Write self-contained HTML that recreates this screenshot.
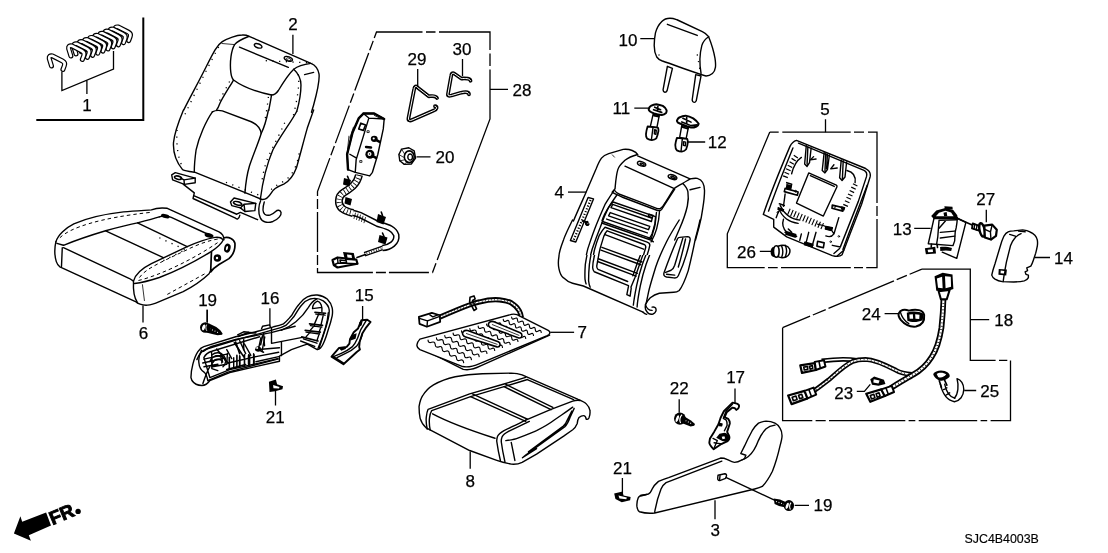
<!DOCTYPE html>
<html><head><meta charset="utf-8"><title>Seat parts diagram</title>
<style>
html,body{margin:0;padding:0;background:#fff;}
body{width:1108px;height:553px;overflow:hidden;font-family:"Liberation Sans",sans-serif;}
svg{display:block;filter:grayscale(1);}
.p{fill:none;stroke:#000;stroke-width:1.4;stroke-linecap:round;stroke-linejoin:round;}
.w{fill:#fff;stroke:#000;stroke-width:1.4;stroke-linecap:round;stroke-linejoin:round;}
.t{fill:none;stroke:#000;stroke-width:0.8;stroke-linecap:round;stroke-linejoin:round;}
.h{fill:none;stroke:#000;stroke-width:1.6;stroke-linecap:round;stroke-linejoin:round;}
.l{fill:none;stroke:#000;stroke-width:1.3;}
.d{fill:none;stroke:#000;stroke-width:1.3;}
.p,.w,.t,.h,.sd{vector-effect:non-scaling-stroke;}
.sd{fill:none;stroke:#000;stroke-width:1.3;stroke-dasharray:1.2 5.5;}
.sd2{vector-effect:non-scaling-stroke;fill:none;stroke:#000;stroke-width:1;stroke-dasharray:3.5 3;}
.sd3{vector-effect:non-scaling-stroke;fill:none;stroke:#000;stroke-width:2.2;stroke-dasharray:1.2 1.8;}
.tk{vector-effect:non-scaling-stroke;fill:none;stroke:#000;stroke-width:5;stroke-dasharray:1.2 2.6;}
.tk2{vector-effect:non-scaling-stroke;fill:none;stroke:#000;stroke-width:6.5;stroke-dasharray:1.1 2.2;}
.k{fill:#000;stroke:none;}
text{font-family:"Liberation Sans",sans-serif;font-size:17px;fill:#000;stroke:#000;stroke-width:0.25;text-anchor:middle;}
</style></head><body>
<svg width="1108" height="553" viewBox="0 0 1108 553">
<!-- 00_labels.svg -->
<g id="labels">
<text x="87" y="110.5">1</text>
<text x="293" y="30">2</text>
<text x="715.2" y="535.8">3</text>
<text x="559.2" y="198">4</text>
<text x="825" y="115">5</text>
<text x="143.6" y="339">6</text>
<text x="582.3" y="338.3">7</text>
<text x="470.2" y="486.8">8</text>
<text x="628" y="45.5">10</text>
<text x="621.3" y="114">11</text>
<text x="717.3" y="147.8">12</text>
<text x="902.2" y="234.6">13</text>
<text x="1063.5" y="263.5">14</text>
<text x="364.3" y="300.9">15</text>
<text x="270" y="303.9">16</text>
<text x="735.6" y="383.4">17</text>
<text x="1003.8" y="326.3">18</text>
<text x="207.6" y="305.5">19</text>
<text x="823" y="511.2">19</text>
<text x="445" y="163">20</text>
<text x="275.2" y="423.2">21</text>
<text x="622.4" y="473.6">21</text>
<text x="679.2" y="393.6">22</text>
<text x="843.8" y="398.5">23</text>
<text x="871.3" y="320.1">24</text>
<text x="989.7" y="397">25</text>
<text x="746.4" y="258.2">26</text>
<text x="985.7" y="205.4">27</text>
<text x="522" y="96">28</text>
<text x="417" y="65">29</text>
<text x="462" y="54.5">30</text>
<text x="1001.7" y="543.3" style="font-size:12.4px;stroke-width:0.15">SJC4B4003B</text>
</g>

<!-- 01_box1.svg -->
<g id="box1">
<path d="M143.3,17.5V120M36.3,120H144.3" style="fill:none;stroke:#000;stroke-width:2"/>
<path class="l" d="M61.9,71.5V90.6L113.5,69V51M86.9,80.4V94"/>
<g id="clipc">
<path d="M51.5,66 L49.2,58.5 Q48.7,55.3 52.5,55.9 L62.5,61 Q65.5,62.5 64.4,65.5 L62.9,69.5" style="fill:none;stroke:#000;stroke-width:5;stroke-linecap:round;stroke-linejoin:round"/>
<path d="M51.5,66 L49.2,58.5 Q48.7,55.3 52.5,55.9 L62.5,61 Q65.5,62.5 64.4,65.5 L62.9,69.5" style="fill:none;stroke:#fff;stroke-width:2.6;stroke-linecap:round;stroke-linejoin:round"/>
</g>
<use href="#clipc" x="65.8" y="-28.9"/>
<use href="#clipc" x="60.6" y="-26.8"/>
<use href="#clipc" x="55.5" y="-24.7"/>
<use href="#clipc" x="50.3" y="-22.6"/>
<use href="#clipc" x="45.1" y="-20.5"/>
<use href="#clipc" x="40.0" y="-18.4"/>
<use href="#clipc" x="34.9" y="-16.3"/>
<use href="#clipc" x="29.7" y="-14.2"/>
<use href="#clipc" x="24.5" y="-12.1"/>
<use href="#clipc" x="19.4" y="-10.0"/>
</g>

<!-- 02_seatback.svg -->
<g id="seatback">
<g transform="translate(150,20) scale(0.1808)">
<path class="p" d="M187,497 C215,440 270,340 310,260 C330,220 345,190 360,165 C375,140 385,130 400,120 C430,100 480,84 510,83 C525,82 540,86 548,90 L890,240 C915,250 930,270 935,300 C938,330 930,380 905,470 L893,510"/>
<path class="t" d="M398,130 L468,136"/>
<path class="p" d="M548,90 C510,105 480,120 468,136 C450,165 440,230 447,290 C450,315 455,325 462,332 C520,375 600,400 672,415 C690,415 700,405 710,390 C740,340 770,295 795,272 C820,252 850,245 890,240"/>
<path class="p" d="M795,272 C820,295 835,320 835,360 C835,420 822,470 812,505"/>
<path class="p" d="M495,150 L765,262"/>
<ellipse class="p" cx="598" cy="143" rx="22" ry="11" transform="rotate(20 598 143)"/>
<ellipse class="p" cx="765" cy="215" rx="24" ry="12" transform="rotate(20 765 215)"/>
<ellipse class="t" cx="767" cy="217" rx="14" ry="6" transform="rotate(20 767 217)"/>
<path class="p" d="M855,302 L905,290"/>
<path class="p" d="M462,332 C440,370 400,430 385,465 C378,485 374,492 368,498"/>
<path class="p" d="M672,415 C667,450 660,480 657,500"/>
<path class="sd" d="M380,150 C350,200 250,400 185,540"/>
<path class="sd" d="M440,340 C420,380 390,430 375,470"/>
<path class="sd" d="M655,425 C650,470 642,520 636,553"/>
<path class="sd" d="M820,300 C830,360 810,460 790,540"/>
<path class="sd" d="M640,225 L900,238"/>
</g>
<g transform="translate(150,110) scale(0.1808)">
<path class="p" d="M185,0 C160,60 135,130 130,180 C127,230 140,280 180,330 C200,340 230,342 250,345 L620,495 C640,497 655,485 670,460 C680,440 700,425 740,410 C770,395 795,360 810,320 C830,250 850,170 870,100 L905,0"/>
<path class="p" d="M345,10 C310,60 270,150 255,220 C248,270 245,310 245,340"/>
<path class="p" d="M345,10 C360,2 380,0 400,5 L560,65 C590,78 610,95 615,130 C600,180 570,250 550,310 C535,360 528,420 525,460"/>
<path class="p" d="M655,0 C645,50 630,100 615,130"/>
<path class="p" d="M811,8 C785,60 722,140 680,220 C650,290 625,380 610,495"/>
<path class="sd" d="M150,110 C145,170 150,250 175,305"/>
<path class="sd" d="M745,70 C720,130 680,200 650,270 C635,310 625,350 618,400"/>
<path class="sd" d="M825,240 C815,300 790,370 730,400 C700,415 690,425 670,440"/>
<path class="sd" d="M420,400 L600,470"/>
</g>
<g transform="translate(150,160) scale(0.1808)">
<path class="w" d="M120,82 L140,70 L250,100 L250,126 L190,135 L125,110 Z"/>
<path class="p" d="M250,100 L188,110 L190,135 M188,110 L170,100"/>
<ellipse class="h" cx="155" cy="98" rx="20" ry="9" transform="rotate(15 155 98)"/>
<path class="p" d="M185,135 L245,182 L238,213 L470,320 C480,330 492,330 497,305 M245,198 L480,300 L500,290 L595,330"/>
<path class="p" d="M612,225 C600,250 597,290 610,320 C620,345 650,350 680,340 C710,328 728,305 725,290 C720,275 705,275 695,285 C675,305 650,312 635,300 C622,288 625,255 632,232"/>
<path class="w" d="M445,232 L465,210 L585,240 L580,280 L525,285 L500,265 L452,252 Z"/>
<path class="p" d="M500,265 L520,245 L585,240 M520,245 L525,285"/>
<ellipse class="h" cx="485" cy="240" rx="24" ry="9" transform="rotate(15 485 240)"/>
</g>
</g>
<path class="l" d="M292.9,34.7V54"/>

<!-- 03_cushion.svg -->
<g id="cushion" transform="translate(40,190) scale(0.1989)">
<path class="p" d="M80,260 C90,225 130,190 170,170 C250,135 350,118 420,110 C480,104 540,102 560,100 C580,92 610,88 640,92 L900,210 C915,218 925,232 925,250"/>
<path class="p" d="M80,260 C73,290 73,330 82,360 C88,378 95,383 100,386 L480,561 C495,575 520,580 540,579 C560,578 580,570 600,561 L720,511 C780,480 830,440 850,421 L860,401"/>
<path class="p" d="M470,461 C468,500 472,540 490,566"/>
<path class="t" d="M515,476 L525,556"/>
<path class="p" d="M112,290 L108,385 M85,268 L118,278"/>
<path class="p" d="M118,278 C200,245 280,220 330,205 C400,185 450,172 490,165 C530,155 570,145 600,135"/>
<path class="p" d="M118,290 L450,445 L470,458"/>
<path class="p" d="M330,205 L620,340 M490,165 L740,285"/>
<path class="p" d="M600,135 C620,128 640,130 660,138 L850,225"/>
<path class="p" d="M470,458 C480,420 510,395 560,370 L740,285 C790,262 840,245 880,238 C900,236 912,240 918,248"/>
<path class="p" d="M475,470 C520,465 570,450 600,440 C680,410 770,365 860,310 C890,290 915,265 922,250"/>
<ellipse class="k" cx="630" cy="131" rx="22" ry="10" transform="rotate(15 630 131)"/>
<ellipse class="k" cx="850" cy="228" rx="23" ry="11" transform="rotate(15 850 228)"/>
<path class="p" style="stroke-width:1.7" d="M925,240 C950,235 975,245 980,268 C982,295 972,325 950,345 L900,375 C880,388 868,398 858,412 M862,310 L858,412"/>
<ellipse class="k" cx="942" cy="292" rx="16" ry="23" transform="rotate(15 942 292)"/><ellipse cx="940" cy="292" rx="5" ry="11" transform="rotate(15 940 292)" fill="#fff"/>
<circle class="k" cx="892" cy="342" r="19"/><circle cx="890" cy="342" r="6" fill="#fff"/>
<path class="sd2" d="M100,240 C150,190 300,140 560,112"/>
<path class="sd2" d="M500,440 C530,400 570,380 740,300 C800,270 860,250 905,245"/>
<path class="sd2" d="M495,455 C600,430 770,350 900,260"/>
<path class="sd2" d="M640,525 L840,415"/>
<path class="sd" d="M600,240 L740,305 M620,355 L720,305"/>
</g>
<path class="l" d="M143,305.5V322.5M207.1,309.5V322"/>

<!-- 04_box28.svg -->
<g id="box28">
<path class="d" d="M376.5,32H490V119L432.5,272.5H317.5V191.5Z" stroke-dasharray="46 3.5 9.5 3.5 69 3.5 12.5 3.5 200 3.5 10 3.5 40 3 10 3 60 3 10 3 40 3 10 3 40 3 10 3 40 3 10 3 40 3 10 3"/>
<path class="l" d="M490,89.3H508M462.5,59V76M417.7,69V86.5M416.5,156.8H430.5"/>
<!-- device -->
<g transform="translate(320,100) scale(0.1808)">
<path class="w" d="M240,75 L300,75 L355,105 L350,160 L320,300 L290,400 L275,420 L195,400 L155,385 L150,300 L180,180 L215,100 Z"/>
<path class="p" d="M240,75 L270,100 L355,105 M270,100 L240,200 L200,330 L195,400 M165,300 L200,320"/><path class="h" style="stroke-width:2.4" d="M240,75 L215,100 L180,180 L150,300 L155,385 M240,75 L300,75 L355,105"/>
<path class="h" d="M226,128 L252,138 L240,168 L214,160 Z"/>
<ellipse class="k" cx="300" cy="215" rx="19" ry="17"/><circle cx="297" cy="213" r="6" fill="#fff"/><circle class="k" cx="276" cy="300" r="25"/>
<circle cx="274" cy="299" r="11" fill="#fff"/><circle class="k" cx="274" cy="299" r="4"/>
<path class="h" style="stroke-width:2.6" d="M312,222 L330,232 M255,260 L282,263 M292,310 L310,320"/>
<rect class="t" x="262" y="170" width="10" height="10"/><rect class="t" x="222" y="335" width="10" height="10"/>
<path class="t" d="M300,85 L330,100 M160,200 L150,300 M185,150 L165,210"/>
</g>
<!-- cable -->
<g transform="translate(300,140) scale(0.25)">
<defs>
<path id="cab28a" vector-effect="non-scaling-stroke" d="M236,140 C228,178 200,195 175,210 C150,225 150,260 170,275 C180,283 195,288 212,292"/>
<path id="cab28b" vector-effect="non-scaling-stroke" d="M205,290 C220,293 230,296 240,300 L310,335 C340,345 375,350 385,380 C390,410 360,430 330,432"/>
<path id="cab28c" vector-effect="non-scaling-stroke" d="M335,430 L258,457"/>
</defs>
<g style="fill:none">
<use href="#cab28c" style="stroke:#000;stroke-width:4.6"/><use href="#cab28c" style="stroke:#fff;stroke-width:2"/><use href="#cab28c" style="stroke:#000;stroke-width:2;stroke-dasharray:0.7 1.8"/>
<use href="#cab28b" style="stroke:#000;stroke-width:6.6"/><use href="#cab28b" style="stroke:#fff;stroke-width:3.6"/>
<use href="#cab28a" style="stroke:#000;stroke-width:8"/><use href="#cab28a" style="stroke:#fff;stroke-width:5"/><use href="#cab28a" style="stroke:#000;stroke-width:5;stroke-dasharray:0.8 2.4"/>
</g>
<path class="t" d="M222,292 L216,314 M232,296 L226,318 M242,300 L236,322 M252,305 L246,326 M262,310 L256,331"/>
<path class="k" d="M176,152 L204,160 L198,186 L172,178 Z M182,228 L208,236 L202,262 L178,254 Z M312,296 L344,308 L334,338 L306,328 Z M318,380 L350,390 L342,418 L312,408 Z"/>
<path class="h" d="M190,145 L196,160 M325,288 L330,302 M330,372 L336,386"/>
<path class="w" d="M130,480 L150,470 L225,478 L230,495 L150,510 L135,500 Z" style="stroke-width:2.2"/>
<path class="p" d="M150,470 L152,492 L230,495 M152,492 L135,500"/><path class="h" d="M160,480 L185,483 L186,492 L162,490 Z"/>
<path class="k" d="M172,448 L215,452 L222,482 L180,480 Z"/><path d="M188,458 L206,460 L208,472 L190,470 Z" fill="#fff"/>
<path class="h" d="M228,470 L262,458"/>
</g>
<!-- nut 20 -->
<g transform="translate(407,156.3) scale(0.9)">
<path class="w" d="M-9,-2 L-6,-8 L2,-9.5 L8,-6 L9.5,2 L5,8.5 L-3,9 L-8,5 Z"/>
<ellipse class="h" cx="2.5" cy="0.5" rx="5.5" ry="6.5"/>
<ellipse class="p" cx="3.5" cy="0.8" rx="2.6" ry="3.4"/>
<path class="t" d="M-6,-8 L-3,-3 M-9,-2 L-4,1 M-8,5 L-3,4 M-3,9 L0,6"/>
</g>
</g>

<!-- 05_hooks.svg -->
<g id="hooks" transform="translate(300,20) scale(0.25)">
<g style="fill:none;stroke-linecap:round;stroke-linejoin:round;vector-effect:non-scaling-stroke">
<defs><path id="hk29" vector-effect="non-scaling-stroke" d="M548,312 C540,300 525,305 515,305 L470,270 C465,262 458,266 457,275 L434,392 C432,402 440,404 448,400 L535,362 C548,358 550,345 540,345"/></defs><use href="#hk29" style="stroke:#000;stroke-width:3.8"/><use href="#hk29" style="stroke:#fff;stroke-width:1.0"/>
<defs><path id="hk30" vector-effect="non-scaling-stroke" d="M682,243 C680,232 660,234 645,234 L618,215 C610,210 606,214 605,222 L592,295 C590,305 598,304 606,302 L640,292 C655,288 675,285 676,297"/></defs><use href="#hk30" style="stroke:#000;stroke-width:3.8"/><use href="#hk30" style="stroke:#fff;stroke-width:1.0"/>
</g>
</g>

<!-- 06_headrest.svg -->
<g id="headrest">
<g transform="translate(520,0) scale(0.2532)">
<path class="w" d="M582,262 L565,355 C566,367 577,367 581,358 L602,270 Z M694,295 L680,395 C682,407 692,407 696,398 L715,300 Z"/>
<path class="w" d="M560,85 C570,75 580,72 592,72 C605,72 612,75 620,78 L720,125 C735,132 740,138 745,145 C755,170 765,200 770,230 C773,250 773,258 772,265 C770,280 765,286 760,290 C750,298 742,300 735,300 C720,298 640,268 560,240 C550,236 545,232 540,225 C532,210 530,195 530,180 C530,160 532,145 535,130 C540,110 550,95 560,85 Z"/>
<path class="p" d="M745,145 C730,155 722,165 718,180 C710,210 708,250 715,290 M582,96 L700,140"/>
<path class="sd" d="M700,215 L712,285 M548,215 L556,232"/>
</g>
<g transform="translate(640,95) scale(0.10858)">
<path class="w" d="M120,180 L95,292 L155,302 L177,190 Z"/>
<path class="w" style="stroke-width:2" d="M80,130 C85,112 92,104 100,100 C118,90 135,85 150,85 C172,88 192,93 210,100 C228,112 240,125 245,140 C246,152 244,160 240,165 C228,175 215,181 200,185 C175,183 152,178 130,170 C112,163 98,157 90,150 C82,143 79,137 80,130 Z"/>
<path class="h" d="M135,112 L190,135 M165,105 L160,145 M125,135 L200,160 M130,172 L128,190 L172,200 L175,182"/>
<path class="w" style="stroke-width:1.8" d="M70,290 C62,315 57,338 55,360 C54,380 58,392 65,400 C80,410 95,414 110,415 C128,414 142,408 150,400 C160,378 166,355 170,330 C171,318 169,308 165,300 Z"/>
<path class="p" d="M120,298 L105,412 M135,320 L150,325 L146,362 L132,358 Z"/>
<path class="w" d="M385,280 L365,392 L425,402 L445,300 Z"/>
<path class="w" style="stroke-width:2" d="M340,235 C346,220 355,210 365,205 C382,196 400,191 420,190 C445,195 468,204 490,215 C512,230 530,248 540,265 C538,278 530,286 520,290 C505,297 488,300 470,300 C445,294 422,285 400,275 C380,268 362,262 350,255 C342,248 339,242 340,235 Z"/>
<path class="h" d="M395,215 L470,250 M430,205 L430,262 M385,248 L470,282 L525,275 M395,278 L392,296 L440,310 L445,290"/>
<path class="w" style="stroke-width:1.8" d="M340,395 C332,418 327,440 325,460 C325,485 330,500 340,510 C355,518 370,522 385,522 C402,520 416,512 425,500 C433,480 438,460 440,440 C441,425 439,414 435,405 Z"/>
<path class="p" d="M390,402 L378,518 M402,430 L420,434 L418,468 L400,464 Z"/>
</g>
<path class="l" d="M640.3,38.7H654.5M634.3,108.1H649.5M687.5,142H705.2"/>
</g>

<!-- 07_backpad.svg -->
<g id="backpad">
<g transform="translate(540,140) scale(0.1808)">
<path class="p" d="M185,448 C205,400 230,345 250,300 L310,160 C320,135 328,115 340,100 C350,88 365,80 380,75 L460,52 C480,50 495,52 510,58 C525,64 535,70 540,80"/>
<path class="p" d="M540,88 L830,215 C845,212 858,210 870,212 C885,216 895,225 900,235 C908,250 910,265 910,280 C910,320 905,350 900,380 C895,420 888,450 880,480 L860,553"/>
<path class="p" d="M540,80 C510,88 485,100 470,112 C450,130 435,145 430,165 C420,200 418,240 415,270 L400,288"/>
<path class="t" d="M400,82 L412,95"/>
<path class="p" d="M470,145 L740,268 M830,215 C815,225 800,232 790,240 C770,250 752,260 740,270 C720,300 705,330 690,350 C682,365 675,375 665,380 C655,382 650,380 645,378 L560,345 L440,300 C428,295 418,288 412,278"/>
<path class="p" d="M400,290 C420,300 440,310 460,318 L650,390 C660,392 668,390 672,385 L745,272"/>
<ellipse class="p" cx="562" cy="132" rx="24" ry="12" transform="rotate(18 562 132)"/><ellipse class="p" cx="565" cy="134" rx="12" ry="5" transform="rotate(18 565 134)"/>
<ellipse class="p" cx="733" cy="205" rx="25" ry="12" transform="rotate(18 733 205)"/><ellipse class="p" cx="736" cy="207" rx="13" ry="5" transform="rotate(18 736 207)"/>
<path class="p" d="M790,240 C805,255 815,268 818,285 C822,310 820,340 815,365 C805,410 790,450 770,495 L745,553"/>
<path class="p" d="M830,275 L885,262"/>
<path class="p" d="M266,318 L296,326 L198,564 L168,556 Z"/>
<path class="sd3" d="M280,332 L186,553"/>
<path class="h" d="M235,448 L262,458 M258,452 a8,10 0 1,0 10,14"/>
</g>
<g transform="translate(540,220) scale(0.1808)">
<path class="p" d="M180,0 C160,40 140,80 130,110 C115,150 105,175 105,200 C100,230 100,250 105,270 C110,295 118,310 130,320 C145,335 160,345 180,350 L240,365 L570,510"/>
<path class="p" d="M885,0 C878,35 870,65 860,100 C848,160 835,220 820,280 C805,325 790,365 770,390 C760,398 750,400 740,400 L660,405 C640,410 625,418 610,430 C598,442 590,452 585,465 C580,480 582,495 590,505 C598,518 610,524 625,520 C640,515 645,500 640,488 C635,480 628,480 620,482"/>
<path class="p" d="M570,510 C575,515 582,520 590,522 M583,468 C590,490 600,500 620,500"/>
<path class="p" d="M770,0 C745,40 720,80 700,120 C675,170 655,215 640,260 C625,310 610,355 600,400 L587,462"/>
<path class="p" d="M772,96 L815,92 C828,92 832,100 830,112 C815,180 795,245 765,308 C760,318 750,322 740,320 L700,315 C688,312 682,305 686,292 C710,225 735,160 760,105 C763,99 767,96 772,96 Z"/>
<path class="p" d="M790,100 C775,150 760,200 745,250 C740,265 735,272 725,278 L695,290 M805,105 C795,150 780,210 765,260 M700,300 L745,305"/>

<path class="h" d="M240,5 L265,12 M262,8 a8,10 0 1,0 8,14"/>
</g>
<clipPath id="cC"><rect x="0" y="0" width="800" height="460"/></clipPath><clipPath id="cD"><rect x="0" y="91.5" width="800" height="500"/></clipPath>
<g transform="translate(570,180) scale(0.16281)" clip-path="url(#cC)">
<path class="p" d="M268,68 C245,100 225,135 215,150 C195,195 175,240 160,280 C140,330 122,385 110,420 C100,460 90,510 82,553 M288,92 C265,125 248,150 237,168 C218,205 200,250 186,290 C166,340 148,390 136,425 C125,465 113,515 106,553"/>
<path class="p" d="M265,135 L525,225 C528,260 520,295 510,320 L500,360 L200,255 C195,250 196,245 200,240 C215,200 240,160 265,135 Z"/>
<path class="p" d="M262,150 L505,235 L500,255 L252,170 Z M247,200 L490,285 L482,305 L237,220 Z M225,240 L475,325"/>
<path class="h" d="M485,210 L510,218 L505,232 L482,224 Z"/>
<path class="p" d="M195,264 L500,370 L512,380"/>
<path class="p" d="M215,290 L470,380 C485,385 492,392 490,402 C485,430 478,450 470,470 L440,553 M215,290 C200,305 190,322 180,340 C168,370 158,400 150,430 C142,470 136,510 130,553"/>
<path class="p" d="M228,312 L455,396 C463,400 467,406 465,415 L440,500 L425,553 M228,312 C218,322 212,335 208,345 L185,420 C178,450 172,480 168,510 L160,553"/>
<path class="p" d="M215,335 L452,425"/>
<path class="p" d="M550,190 C548,235 540,270 532,300 C524,330 512,355 498,380 M531,200 C528,235 524,255 521,270 C515,295 510,312 504,330 C498,345 492,355 484,363"/>
</g>
<g transform="translate(572.3,240) scale(0.16281)" clip-path="url(#cD)">
<path class="p" d="M110,0 C98,50 88,100 80,150 C77,190 77,220 78,240 C80,255 82,262 85,270 M135,0 C122,50 112,100 105,150 C101,190 100,225 100,250 C102,270 105,280 110,290"/>
<path class="p" d="M165,0 C150,35 142,65 135,100 C128,130 125,150 125,170 C126,182 130,190 135,195 L345,280 M455,30 C445,65 432,95 420,130 L385,230 L360,290"/>
<path class="p" d="M185,20 C172,50 165,80 160,105 L150,160 C150,170 152,176 158,180 L340,255 M435,50 L400,140 L372,220"/>
<path class="p" d="M345,285 L335,335 L355,345 L362,295"/>
<path class="p" d="M480,20 C462,65 445,110 430,150 C415,195 403,240 395,280 C385,330 378,370 375,400 M503,20 C485,65 468,110 453,150 C438,195 426,240 418,280 C408,330 400,375 398,412"/>
</g>
<g transform="translate(572.3,240) scale(0.16281)"><path class="p" d="M182,45 L428,135 M176,62 L420,152 M160,115 L400,205 M155,132 L392,222"/></g>
<path class="l" d="M568,192.1H586.3"/>
</g>

<!-- 08_box5.svg -->
<g id="box5">
<path class="d" d="M769.7,132.2H778.7M782.3,132.2H850.7M854,132.2H864M868,132.2H877V203M877,206V216M877,219V267.6H866.2M863,267.6H854M850.8,267.6H781M777.7,267.6H768M764.7,267.6H727.3V233.8L769.7,132.2"/>
<path class="l" d="M825.5,119.2V132.2M759.8,251.4H772"/>
<g transform="translate(720,120) scale(0.16276)">
<path class="w" d="M470,125 L895,298 C915,308 928,325 922,350 L870,518 L800,698 L765,790 L750,828 C740,838 715,840 690,833 L410,718 L330,658 L330,610 L266,580 C300,480 380,280 430,162 C440,142 452,130 470,125 Z"/>
<path class="p" d="M482,142 L885,310 C900,318 905,330 900,348 L850,500 L740,778 M448,172 C400,290 330,470 298,560"/>
<path class="p" d="M905,400 L790,700 L755,795 M760,800 L720,835"/>
<path class="p" d="M530,158 L520,270 L535,285 L550,262 L560,172 M540,165 L535,270 M640,200 L628,310 L645,325 L660,305 L672,215 M650,205 L645,312 M660,210 L655,300 M745,245 L735,355 L750,372 L768,350 L778,258 M757,250 L752,360"/>
<path class="p" d="M500,230 C470,250 450,290 440,330 M575,225 L555,245 L590,240 M700,275 L680,300 L720,295 M780,310 C820,320 835,350 830,385"/>
<path class="tk" d="M468,222 C440,260 420,300 400,355"/>
<path class="tk" d="M832,395 C815,430 790,480 765,540"/>
<path class="w" d="M545,325 L715,400 C720,403 720,410 715,418 L635,590 L470,510 Z"/>
<path class="p" d="M555,342 L702,408"/>
<path class="h" d="M400,420 L480,442 L475,462 L395,440 Z M410,385 L440,395 L432,425 M690,522 L760,540 L755,560 L688,542 Z"/>
<circle class="t" cx="465" cy="438" r="6"/><circle class="t" cx="706" cy="532" r="6"/>
<path class="p" d="M400,455 L390,530"/>
<path class="tk2" d="M420,562 L640,657"/>
<path class="p" d="M360,540 C380,600 430,630 480,635 M370,525 C400,590 440,610 490,615 M600,640 C650,650 690,670 700,700 M730,600 L700,700 C690,715 670,720 650,712 M360,560 L345,600 M390,610 C380,640 390,670 410,690"/>
<path class="h" d="M400,690 L470,715 M420,670 L440,690 M520,755 L570,770 M600,745 L640,755 L635,785 L595,775 Z M650,655 L690,662 L685,678 L648,670 Z M365,515 L395,525"/>
<path class="k" d="M408,392 L442,402 L436,432 L404,424 Z M405,680 L470,700 L465,725 L400,705 Z M520,745 L575,760 L570,785 L515,770 Z M650,652 L692,660 L686,682 L646,672 Z M355,535 L395,548 L390,565 L352,552 Z M745,530 L770,536 L765,556 L742,550 Z"/>
<circle class="t" cx="680" cy="748" r="5"/><circle class="t" cx="730" cy="715" r="5"/><circle class="t" cx="355" cy="568" r="5"/>
<path class="p" d="M500,700 L490,740 M545,690 L530,750 M590,690 L570,760 M690,770 L740,780 M700,820 L735,790"/>
</g>
<!-- clip 26 -->
<g>
<ellipse class="k" cx="773.6" cy="252" rx="3" ry="5"/>
<path class="w" d="M778,246.3 C783,244.3 788,245.3 789.6,249 C790.6,252 789,256 786,257 C783,258 780,257.6 778,256.6 Z" style="stroke-width:1.5"/>
<ellipse class="w" cx="776.3" cy="251.5" rx="2.8" ry="5.7" style="stroke-width:1.6"/>
<path class="p" d="M781.5,245.6 C783,249 783,254 781.6,257.4 M785.2,245.3 C786.8,248.5 786.8,253.5 785.2,257"/>
</g>
</g>

<!-- 09_p13.svg -->
<g id="p13_27_14">
<path class="l" d="M914.2,228.3H930.7M986.3,209.8V222.2M1034.8,257.5H1050"/>
<g transform="translate(915,195) scale(0.12658)">
<path class="p" d="M335,182 L402,216 L330,500 L215,452"/>
<path class="w" d="M150,185 L335,180 C333,210 330,235 325,260 C318,285 314,300 316,320 C318,350 310,380 300,400 L105,385 Z"/>
<path class="p" d="M190,200 L330,195 M190,200 L180,330 L170,392 M200,295 L312,285 M200,340 L314,325 M240,205 L190,262"/>
<path class="k" d="M128,165 L168,122 L240,102 L302,118 L334,160 L338,190 L150,192 Z"/>
<path d="M165,168 L190,140 L240,125 L285,138 L305,168 Z" fill="#fff"/>
<path class="k" d="M232,88 L296,92 L298,115 L236,112 Z M225,140 L250,135 L255,165 L230,168 Z"/>
<path class="h" d="M335,185 L452,237"/>
<path class="k" d="M78,420 L160,408 L166,462 L86,468 Z M198,410 C230,405 265,410 292,418 L286,442 C260,436 230,436 200,442 Z"/>
<path d="M100,432 L140,428 L142,450 L104,452 Z" fill="#fff"/>
<path class="h" d="M130,390 L128,412 M175,392 L178,415"/>
<!-- bolt 27 -->
<path class="w" d="M456,224 L512,246 L506,282 L450,264 Z" style="stroke-width:1.8"/>
<path class="p" d="M472,230 L466,270 M490,238 L484,276"/>
<ellipse class="w" cx="530" cy="276" rx="20" ry="54" transform="rotate(-12 530 276)" style="stroke-width:2.4"/>
<path class="w" d="M548,242 L610,234 L646,275 L640,322 L600,352 L552,336 Z" style="stroke-width:2.2"/>
<path class="p" d="M600,352 L596,292 L610,234 M596,292 L552,272"/>
</g>
<g>
<!-- cover 14 -->
</g>
<g transform="translate(960,210) scale(0.16281)">
<path class="w" d="M195,400 C200,375 208,350 215,330 L245,230 C252,205 260,180 270,160 C278,146 285,138 295,135 C305,130 318,128 330,128 L385,122 C402,124 418,128 430,135 C442,140 452,147 460,155 C468,164 473,174 475,185 C477,198 477,208 475,220 C472,236 469,250 465,265 L450,310 C445,325 440,336 435,345 L410,355 L415,372 L400,380 L405,395 L420,400 L420,415 C415,425 405,432 395,435 C375,440 352,442 330,442 L260,440 C242,438 228,433 215,425 C205,418 198,410 195,400 Z"/>
<path class="p" d="M375,145 C358,152 345,162 335,175 C322,190 315,205 310,220 L285,320 C277,360 270,400 265,440 M305,150 L340,160 M360,130 L400,134"/>
<path class="k" d="M238,362 L288,365 L284,402 L236,398 Z"/>
<path d="M250,372 L272,374 L270,390 L249,388 Z" fill="#fff"/>
</g>
</g>

<!-- 10_box18.svg -->
<g id="box18">
<path class="d" d="M782.6,327.7L921.9,269.1" stroke-dasharray="29.8 3 14 3 71 3 11 3 200"/><path class="d" d="M921.9,269.1H970.3V360.4H995.6M999,360.4H1007.3M1010.5,360.4V420.7H990.6M987.2,420.7H980.6M977.2,420.7H918.7M915.3,420.7H908.6M905.3,420.7H829M825.7,420.7H815.6M812.3,420.7H782.6V327.7"/>
<path class="l" d="M970.1,319.7H989.2M884.6,313.6H898.5M856.8,391.4H864.4L870.3,384.4M964.2,390.5H976.2"/>
<g transform="translate(770,255) scale(0.21701)">
<defs>
<path id="c18a" vector-effect="non-scaling-stroke" d="M800,190 C798,250 795,290 790,336 C780,400 765,440 745,470 C720,510 690,535 660,551 C630,570 590,590 548,620"/>
<path id="c18b" vector-effect="non-scaling-stroke" d="M655,550 C620,548 595,540 580,531 C540,510 480,482 440,481 C415,481 395,485 380,491 C340,510 300,550 270,576 C240,600 210,622 180,642"/>
<path id="c18c" vector-effect="non-scaling-stroke" d="M400,486 C360,478 300,480 238,488"/>
</defs>
<g style="fill:none;stroke-linecap:butt">
<use href="#c18c" style="stroke:#000;stroke-width:4.8"/><use href="#c18c" style="stroke:#fff;stroke-width:1.5"/>
<use href="#c18b" style="stroke:#000;stroke-width:4.8"/><use href="#c18b" style="stroke:#fff;stroke-width:1.5"/><use href="#c18b" style="stroke:#000;stroke-width:1.5;stroke-dasharray:0.6 3"/>
<use href="#c18a" style="stroke:#000;stroke-width:5.8"/><use href="#c18a" style="stroke:#fff;stroke-width:2.2"/><use href="#c18a" style="stroke:#000;stroke-width:2.2;stroke-dasharray:0.7 2.6"/>
</g>
<!-- connectors -->
</g>
<g transform="translate(780,260) scale(0.28944)">
<path class="k" d="M534,56 L562,44 L596,50 L599,100 L572,110 L540,106 Z"/>
<path d="M542,64 L560,58 L562,98 L546,96 Z M570,56 L590,58 L591,92 L572,98 Z" fill="#fff"/>
<path class="w" d="M548,108 L586,104 L576,136 L556,136 Z" style="stroke-width:2"/>
<path class="w" d="M70,364 L120,356 L124,380 L76,390 Z" style="stroke-width:2.2"/>
<path class="w" d="M120,352 L152,346 L157,368 L124,380 Z" style="stroke-width:2"/>
<path class="h" d="M82,370 L95,368 L96,378 L84,380 Z M102,367 L112,365 L113,375 L104,377 Z M135,352 L139,372"/>
<path class="w" d="M28,468 L85,452 L95,478 L40,498 Z" style="stroke-width:2.2"/>
<path class="w" d="M85,452 L116,441 L125,465 L95,478 Z" style="stroke-width:2"/>
<path class="h" d="M42,474 L55,470 L59,482 L46,486 Z M64,467 L75,464 L79,476 L68,479 Z M100,448 L108,470"/>
<path class="w" d="M298,462 L350,447 L362,470 L312,490 Z" style="stroke-width:2.2"/>
<path class="w" d="M350,447 L386,435 L394,456 L362,470 Z" style="stroke-width:2"/>
<path class="h" d="M312,468 L324,464 L328,476 L316,480 Z M332,462 L342,459 L346,470 L336,474 Z M366,442 L374,463"/>
</g>
<g transform="translate(770,255) scale(0.21701)">
<!-- clip 23 -->
<path class="k" d="M462,572 L480,560 L525,575 L532,595 L500,602 L470,598 Z"/>
<path d="M478,572 L505,578 L500,592 L476,588 Z" fill="#fff"/>
<!-- clip 24 -->
</g>
<g transform="translate(780,260) scale(0.28944)">
<path class="w" d="M410,185 C415,172 430,168 445,175 C470,168 495,172 498,190 C500,210 490,225 470,230 C450,232 430,222 418,208 C410,198 408,192 410,185 Z" style="stroke-width:2"/>
<path class="k" d="M438,182 C455,176 480,176 496,186 L493,208 C475,216 455,216 440,210 Z"/>
<path d="M447,188 L459,187 L460,203 L448,203 Z M467,187 L482,189 L481,204 L468,203 Z" fill="#fff"/>
<path class="p" d="M416,180 C420,195 430,210 445,220"/>
</g>
<g transform="translate(770,255) scale(0.21701)">
<!-- clip 25 -->
<path class="k" d="M752,548 C760,535 785,528 805,535 C820,540 830,550 828,560 C820,572 800,580 785,580 C770,575 755,562 752,548 Z"/>
<path d="M768,548 C778,540 800,540 812,550 C805,562 785,568 775,562 Z" fill="#fff"/>
<path class="h" d="M780,580 L790,610 M805,578 L815,600"/>
<path class="p" d="M785,595 C795,640 820,670 850,676 C875,672 892,650 893,620 C893,595 880,575 862,570 M805,595 C812,630 830,655 852,660 M862,570 C870,600 868,640 850,660 M800,620 L815,612 M812,645 L828,635"/>
</g>
</g>

<!-- 11_pad7.svg -->
<g id="pad7">
<path class="l" d="M550.2,332.3H574.1"/>
<g transform="translate(400,285) scale(0.19893)">
<defs><path id="c7" vector-effect="non-scaling-stroke" d="M200,162 C250,140 300,118 350,100 C370,92 385,88 400,85 C440,75 470,72 500,75 C525,78 545,82 560,90 C580,102 592,115 600,130 C606,142 609,152 610,162"/></defs>
<g style="fill:none"><use href="#c7" style="stroke:#000;stroke-width:5.2"/><use href="#c7" style="stroke:#fff;stroke-width:1.4"/><use href="#c7" style="stroke:#000;stroke-width:1.4;stroke-dasharray:0.6 2.6"/></g>
<path class="h" d="M352,62 L372,55 L378,70 L365,78 L385,120 L372,128 L350,85 Z"/>
<path class="w" d="M95,160 L160,140 L200,152 L202,185 L135,210 L98,195 Z" style="stroke-width:1.8"/>
<path class="p" d="M97,168 L138,180 L200,158 M138,180 L136,208 M150,150 L165,160 L190,150"/>
<path class="p" d="M88,308 L318,424 C345,430 375,422 405,407 L752,252"/>
<path class="w" d="M100,272 L560,148 C575,144 590,148 605,158 L745,228 C758,236 755,248 740,255 L400,395 C370,408 340,415 315,410 L100,325 C82,315 78,295 100,272 Z"/>
<path class="p" style="stroke-width:1.15" d="M141,277 Q142,294 159,288 Q175,282 177,299 Q178,317 195,311 Q211,304 212,322 Q214,339 230,333 Q247,327 248,344 Q250,362 266,356 Q282,350 284,367 Q285,385 302,378 Q318,372 320,390 M183,265 Q184,283 201,276 Q217,270 218,287 Q220,304 236,298 Q252,292 253,309 Q255,326 271,320 Q287,313 288,331 Q290,348 306,342 Q322,335 324,353 Q325,370 341,364 Q357,357 359,375 M225,254 Q226,271 242,264 Q258,258 260,275 Q261,292 277,285 Q293,279 294,296 Q295,313 311,307 Q327,300 329,317 Q330,334 346,328 Q362,321 363,338 Q365,356 381,349 Q396,342 398,360 M267,242 Q268,259 284,252 Q300,245 301,262 Q302,280 318,273 Q334,266 335,283 Q336,300 352,293 Q368,286 369,303 Q370,321 386,314 Q402,307 403,324 Q404,341 420,334 Q436,327 437,344 M309,230 Q310,247 326,240 Q341,233 342,250 Q344,267 359,260 Q375,253 376,270 Q377,287 392,280 Q408,273 409,290 Q410,307 426,300 Q441,293 443,310 Q444,327 459,320 Q475,312 476,329 M351,219 Q352,236 367,228 Q383,221 384,238 Q385,255 400,247 Q415,240 417,257 Q418,274 433,267 Q448,259 449,276 Q451,293 466,286 Q481,278 482,295 Q483,312 499,305 Q514,297 515,314 M393,207 Q394,224 409,216 Q424,209 425,226 Q426,242 441,235 Q456,227 457,244 Q459,261 474,253 Q489,246 490,262 Q491,279 506,272 Q521,264 522,281 Q523,298 538,290 Q553,283 554,299 M435,196 Q436,212 451,205 Q466,197 467,213 Q468,230 482,222 Q497,214 498,231 Q499,248 514,240 Q529,232 530,249 Q531,265 546,258 Q560,250 562,267 Q563,283 577,275 Q592,268 593,284 M477,184 Q478,201 493,193 Q507,185 508,201 Q509,218 524,210 Q538,202 539,218 Q540,235 555,227 Q569,219 570,235 Q571,252 586,244 Q600,236 601,252 Q602,269 617,261 Q631,253 632,269 M519,172 Q520,189 534,181 Q548,172 549,189 Q550,205 565,197 Q579,189 580,205 Q581,222 595,213 Q609,205 610,221 Q611,238 626,230 Q640,221 641,238 Q642,254 656,246 Q670,238 671,254 M561,161 Q562,177 576,169 Q590,160 591,177 Q592,193 606,184 Q620,176 621,192 Q622,208 636,200 Q650,191 651,208 Q652,224 666,216 Q679,207 680,223 Q681,240 695,231 Q709,223 710,239"/>
<path class="w" style="stroke-width:1.6" d="M316,250 C310,236 323,225 340,229 L494,285 C508,292 505,314 487,311 L330,261 C323,259 318,255 316,250 Z M446,205 C440,191 453,180 470,184 L604,240 C618,247 615,269 597,266 L460,216 C453,214 448,210 446,205 Z"/>
<path class="t" d="M334,244 L488,298 M464,199 L598,253"/>
</g>
</g>

<!-- 12_pad8.svg -->
<g id="pad8">
<path class="l" d="M470.2,451.5V468.7"/>
<g transform="translate(410,365) scale(0.1808)">
<path class="w" d="M50,230 C55,200 60,185 70,170 C85,145 105,125 130,110 C165,90 205,75 250,65 C300,55 350,50 400,48 L560,45 C585,46 605,50 620,55 L930,190 C950,198 965,205 975,215 C988,228 994,240 995,250 C997,265 995,280 990,292 C985,300 980,302 975,300 C972,285 968,280 960,280 C950,280 942,284 935,290 C928,300 926,310 925,323 C918,340 910,350 900,358 L850,393 L700,493 L620,538 C600,548 580,550 560,548 C530,543 505,537 480,528 L330,473 L90,348 C75,335 62,315 56,295 C52,275 50,250 50,230 Z"/>
<path class="p" d="M95,355 C90,330 88,310 90,290 C92,270 95,255 100,245 L330,160 L520,105 L640,68 M112,360 C107,335 105,312 108,292 C110,275 114,262 120,252 L335,175 L525,118 L650,80"/>
<path class="p" d="M345,160 L650,300 M335,175 L640,312 M530,107 L790,235 M520,120 L780,247"/>
<path class="p" d="M652,82 L905,192"/>
<path class="p" d="M640,305 C590,330 550,348 520,363 C500,375 490,383 485,393 C480,405 479,412 480,423 C485,460 492,495 500,528 M660,312 C610,337 572,352 545,367 C525,378 515,386 510,396 C505,408 504,415 505,426 C510,465 517,500 525,535"/>
<path class="p" d="M640,305 L780,245 L900,200 C915,195 928,194 940,196"/>
<path class="p" d="M125,270 C200,310 330,360 470,405 M560,428 L580,528"/>
<path class="p" d="M530,418 C560,415 585,410 600,403 C640,388 670,375 700,363 C740,343 775,322 800,303 C840,275 875,252 900,233"/>
<path class="p" d="M908,240 L885,290 C878,310 868,330 855,343 L640,498 L622,513 L700,463 M895,255 L872,300 C865,318 857,330 848,338 L655,480"/>
</g>
</g>

<!-- 13_p16.svg -->
<g id="p16_15_19_21">
<path class="l" d="M207.3,309.9V322.8M269.9,308.3V325.8M362.6,305.9V321.8M275.5,389.7V405.6"/>
<g transform="translate(180,290) scale(0.19893)">
<!-- screw 19 moved -->
<!-- part 16 -->
<path class="w" d="M55,440 C55,400 70,340 90,310 C100,295 110,288 120,285 L280,235 L400,205 L470,185 C495,180 510,175 520,170 C540,155 550,140 560,130 C575,105 585,85 600,70 C612,55 625,42 640,35 C655,27 672,24 690,25 C710,28 728,35 740,45 C755,60 762,75 765,90 C768,105 767,118 765,130 C760,155 752,180 745,200 C738,225 730,250 720,270 C712,288 700,298 690,300 L640,272 L620,278 L560,300 L500,332 L500,358 L380,385 L250,415 L150,455 C140,470 125,480 110,480 C90,480 70,470 60,455 Z"/>
<path class="p" d="M85,350 C95,325 110,305 130,298 L285,250 L405,218 L475,198 C505,192 520,185 532,178 C552,160 562,145 572,135 C588,108 600,88 612,75 C625,60 640,50 655,45 C675,40 700,42 720,55 C738,68 748,85 750,100 C752,130 740,170 728,205 L700,290"/>
<path class="p" d="M150,440 L250,400 L385,370 L490,345 M115,470 C125,440 135,410 150,385 M120,340 L150,440 M120,340 C130,320 145,312 160,308 L400,235"/>

<path class="p" d="M460,190 L460,268 L615,238 M510,262 L510,330 M420,215 L425,280 M380,300 L500,290 M300,255 L330,320 M270,340 L270,392 M300,330 L300,388 M345,325 L345,378 M370,320 L370,372 M235,300 L260,345 M160,350 L160,395 L190,405"/>
<path class="h" d="M280,262 L300,320 M320,250 L320,300 M345,330 L345,372 M300,335 L300,380 M415,230 L405,275 M235,400 L330,375"/>

<path class="p" d="M150,360 A42,42 0 0,1 228,355 M165,365 A28,28 0 0,1 215,362 M410,195 L415,182 L450,175 L455,188 M290,225 L320,210 L345,212"/>

<!-- part 15 -->
</g>
<g transform="translate(280,290) scale(0.1085)">
<path class="p" d="M300,172 C300,140 315,115 345,102 C375,110 392,150 386,200 M300,172 L385,160 M10,372 C100,340 200,262 262,160 C285,120 310,98 340,82"/>
<path class="h" d="M322,206 L420,214 M272,312 L392,326 M232,372 L372,388 M200,432 L350,470"/>
<path class="p" d="M330,222 L415,232 M280,328 L385,342 M240,388 L365,405 M360,215 L318,312 M402,218 L378,322 M318,326 L278,372 M378,340 L360,388 M278,388 L240,432 M362,402 L340,468 M215,450 L340,490 M190,470 L320,520 M445,210 C440,300 400,420 350,540"/>
</g>
<g transform="translate(325,310) scale(0.1085)">
<path class="w" style="stroke-width:1.9" d="M335,95 L390,90 L420,110 L380,160 L345,215 L320,290 L315,340 L322,365 L290,390 L170,500 L60,430 L130,350 L200,340 L225,310 L230,270 L265,205 L305,170 Z"/>
<path class="p" d="M378,100 C360,130 345,155 330,180 C318,210 310,235 300,260 C285,295 270,320 250,340 C220,365 185,385 150,400 L78,430 M345,215 C335,260 320,300 290,335 C260,365 225,385 190,400 L110,440"/>
<path class="k" d="M316,112 L348,100 L338,140 L312,160 Z M240,232 L292,215 L282,265 L236,282 Z M60,430 L170,500 L182,488 L75,420 Z M130,352 L200,342 L190,360 L150,375 Z"/>
</g>

<g transform="translate(185,325) scale(0.12658)">
<path class="p" d="M145,208 C170,188 190,178 210,170 L400,114 L680,60 L870,10 M130,200 C115,230 105,270 110,300 C112,330 125,355 150,372 C165,385 175,410 180,440 M180,440 L340,372 L740,268"/>
<path class="h" d="M350,255 L350,350 M410,240 L410,335 M470,235 L470,320 M510,240 L510,315 M545,235 L545,305 M390,140 L470,260 M250,190 L340,300"/>
<path class="p" d="M470,150 L520,240 M600,100 L580,190 M630,95 L610,200 M150,270 L330,230 M140,300 L300,265 M150,330 L260,310 M340,300 L560,250 M560,250 L740,215 M560,290 L740,250 M210,215 L215,330 L330,310 L335,225"/>
<path class="p" d="M215,235 A60,60 0 0,1 300,330 M240,245 A40,40 0 0,1 290,300"/>
<circle class="k" cx="578" cy="190" r="22"/><circle cx="570" cy="182" r="8" fill="#fff"/>
<path class="h" d="M590,200 L620,215 M420,90 L500,60 L560,62"/>
</g>
<g id="screw19a">
<path class="k" d="M209,323.5 L216.3,327 L220.3,330.3 L222.6,333.5 L222.1,334.7 L217.6,335.3 L213.1,334.2 L206.3,332.6 Z"/>
<path d="M209.5,328.6 L219,333" style="fill:none;stroke:#fff;stroke-width:1.1;stroke-dasharray:0.9 1.9"/>
<ellipse class="k" cx="205.4" cy="327.5" rx="5.4" ry="5.3"/>
<ellipse cx="203.6" cy="327.4" rx="1.5" ry="3.1" transform="rotate(18 203.6 327.4)" fill="#fff"/>
<path d="M206.6,324.6 C205.6,326.5 205.6,329 206.8,330.8" style="fill:none;stroke:#fff;stroke-width:0.9"/>
</g>
<!-- clip 21 -->
<g transform="translate(180,340) scale(0.19893)">
<path class="k" d="M447,210 L482,198 L488,222 L518,232 L515,248 L478,258 L450,262 Z"/>
<path d="M468,226 L500,236 L498,244 L470,242 Z" fill="#fff"/>
</g>
</g>

<!-- 14_p3.svg -->
<g id="p3_17_22">
<path class="l" d="M679.2,399.3V412.7M735,388.4V403.6M622.4,478V493.5M715,500.3V519.3M794.7,505.4H809"/>
<g transform="translate(600,365) scale(0.21701)">
<!-- part 17 -->
</g>
<g transform="translate(700,395) scale(0.1085)">
<path class="w" style="stroke-width:1.9" d="M300,70 L340,80 C355,85 362,95 360,108 C358,122 350,132 335,138 L322,122 L300,116 L246,160 L226,205 L260,220 C272,235 276,248 275,262 L250,340 L262,365 C275,385 272,410 255,425 L200,450 L125,500 L108,480 C92,462 84,450 86,438 C88,425 90,412 92,400 L130,340 L170,270 L190,210 L220,150 Z"/>
<path class="p" d="M300,84 L240,150 L215,215 L240,230 C250,245 252,262 250,280 L225,330 M130,440 L200,450 M120,400 L160,420 L125,500"/>
<path class="k" d="M180,358 L225,348 C250,352 268,370 270,392 C270,412 258,428 238,432 L205,425 L150,395 Z"/>
<path d="M200,385 L225,380 L232,400 L208,408 Z" fill="#fff"/>
<path class="h" d="M180,264 L202,268 L198,284 L178,280 Z"/>
</g>

<g transform="translate(580,413) scale(0.2532)">
<!-- part 3 -->
<path class="w" d="M230,335 C224,350 224,362 225,370 C227,382 230,388 235,390 C255,396 275,397 295,395 L690,300 C702,297 712,294 720,290 C738,272 750,250 760,230 C772,200 782,165 790,130 C795,112 798,100 798,90 C798,78 795,68 790,60 C785,50 778,44 770,40 C760,35 748,32 735,32 C724,33 714,36 705,40 C695,48 687,58 680,70 C668,92 658,112 650,130 L635,160 L655,167 L650,180 C646,184 643,185 640,185 C628,192 620,195 610,195 C600,194 590,188 580,183 C572,179 562,178 555,178 L350,255 C335,260 322,265 310,270 C298,280 290,290 285,300 C280,312 276,318 270,320 C260,323 250,324 240,325 C235,328 232,331 230,335 Z"/>
<path class="p" d="M560,190 L340,275 C330,282 324,290 320,300 C308,330 300,360 295,392 M770,48 C755,50 742,56 735,62 C722,75 712,92 705,108 C695,135 680,160 665,172 C655,180 648,184 640,185 M240,328 L262,322"/>
<path class="w" d="M545,246 L572,240 C578,240 580,245 578,250 L575,258 L552,267 C546,268 543,263 544,256 Z"/>
<path class="p" d="M553,248 L551,266 M578,255 L770,345"/>
<!-- clip 21 -->
<path class="k" d="M135,318 L168,310 L172,326 L200,332 L198,345 L165,352 L140,340 Z"/>
<path d="M152,326 L185,334 L183,341 L156,338 Z" fill="#fff"/>
</g>
<g id="screw22">
<path class="k" d="M684,416.2 L691,420.5 L695,424 L694.2,425.8 L690.6,426.6 L682.9,423.4 Z"/>
<path d="M685.5,420.6 L692.5,424.2" style="fill:none;stroke:#fff;stroke-width:1.1;stroke-dasharray:0.9 1.8"/>
<ellipse class="k" cx="679.9" cy="418.6" rx="5.9" ry="6.2"/>
<ellipse cx="677.3" cy="418.6" rx="1.3" ry="3.6" transform="rotate(18 677.3 418.6)" fill="#fff"/>
<path d="M682,414.8 C679.6,416.8 679.2,420.8 680.6,423" style="fill:none;stroke:#fff;stroke-width:1.2"/>
</g>
<g id="screw19b">
<path class="k" d="M773.7,498.6 L780,499.4 L786.3,502.2 L784.5,507.2 L779,506 L774.6,504 Z"/>
<path d="M776,501.5 L784,504.3" style="fill:none;stroke:#fff;stroke-width:1.1;stroke-dasharray:0.9 1.8"/>
<ellipse class="k" cx="788.9" cy="505.6" rx="5.2" ry="5.5"/>
<ellipse cx="787.2" cy="505.8" rx="1.3" ry="3.2" transform="rotate(18 787.2 505.8)" fill="#fff"/>
<path d="M791,502.6 C789.6,504.5 789.4,507.5 790.4,509.4" style="fill:none;stroke:#fff;stroke-width:1.1"/>
</g>
</g>
<!-- 15_fr.svg -->
<g id="fr">
<path class="k" d="M13.9,533.4 L20.4,516.3 L22.2,521.8 L46.1,512.5 L51,525.5 L28.8,535.3 L30.9,540.7 Z"/>
<text x="52.4" y="525.2" transform="rotate(-22.5 52.4 525.2)" style="font-size:19px;font-weight:bold;text-anchor:start;stroke-width:0.9">FR</text>
<circle class="k" cx="78.1" cy="511.4" r="2.7"/>
</g>

</svg>
</body></html>
